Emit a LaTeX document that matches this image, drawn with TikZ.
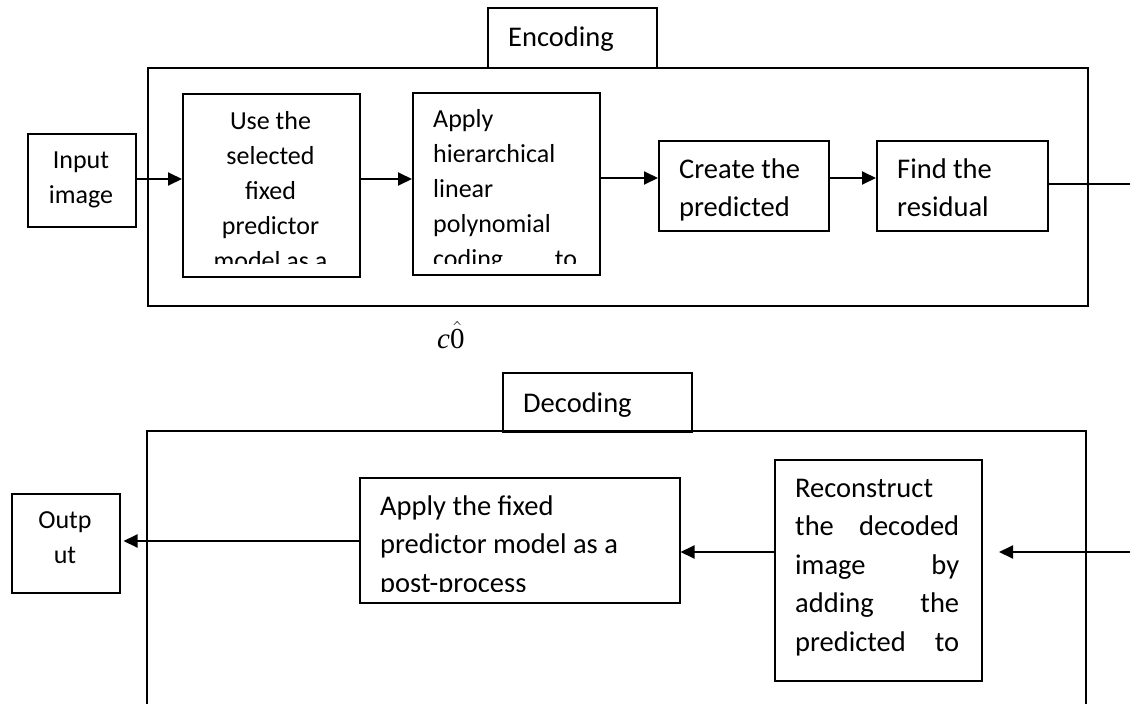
\documentclass[tikz,border=0pt]{standalone}
\usepackage{fix-cm}
\usepackage{fontspec}
\setmainfont{Carlito}
\newfontfamily\tnr{Liberation Serif}
\usetikzlibrary{arrows.meta}
\tikzset{
  box/.style={draw, line width=1.5pt, inner sep=0pt, anchor=north west},
  arr/.style={line width=1.9pt, -{Triangle[length=14pt,width=13pt]}},
  thinl/.style={line width=1.3pt},
  tsmall/.style={inner sep=0pt, font=\fontsize{26}{35}\selectfont},
  tbig/.style={inner sep=0pt, font=\fontsize{28.5}{38.5}\selectfont},
}
\begin{document}
\begin{tikzpicture}[x=1pt,y=-1pt]
\clip (0,0) rectangle (1130,704);
% ---------- Encoding ----------
\node[box, minimum width=940pt, minimum height=238pt] (enc) at (147,67) {};
\node[box, minimum width=169pt, minimum height=60pt] (enclab) at (487,7) {};
\node[tbig, anchor=base west] (enct) at (508,46) {Encoding};

\node[box, minimum width=108pt, minimum height=93pt] (inp) at (27,133) {};
\node[tsmall, anchor=base, align=center] (inpt) at (81,203) {Input\\image};

\node[box, minimum width=177pt, minimum height=183pt] (b1) at (182,93) {};
\begin{scope}
\clip (182,93) rectangle (359,263);
\node[tsmall, anchor=base, align=center] (b1t) at (270.5,269) {Use the\\selected\\fixed\\predictor\\model as a};
\end{scope}

\node[box, minimum width=187pt, minimum height=182pt] (b2) at (412,92) {};
\begin{scope}
\clip (412,92) rectangle (599,263);
\node[tsmall, anchor=base west, align=left] (b2t) at (433,267) {Apply\\hierarchical\\linear\\polynomial\\\hbox to 144pt{coding\hfill to}};
\end{scope}

\node[box, minimum width=170pt, minimum height=90pt] (b3) at (658,140) {};
\node[tbig, anchor=base west, align=left] (b3t) at (679,216.5) {Create the\\predicted};

\node[box, minimum width=171pt, minimum height=90pt] (b4) at (876,140) {};
\node[tbig, anchor=base west, align=left] (b4t) at (897,216.5) {Find the\\residual};

\coordinate (r1) at (0,179);
\coordinate (r2) at (0,178);
\coordinate (r3) at (0,184);
\coordinate (resout) at (1130,184);
\draw[arr] (inp.east |- r1) -- (b1.west |- r1);
\draw[arr] (b1.east |- r1) -- (b2.west |- r1);
\draw[arr] (b2.east |- r2) -- (b3.west |- r2);
\draw[arr] (b3.east |- r2) -- (b4.west |- r2);
\draw[thinl] (b4.east |- r3) -- (resout);

\node[inner sep=0pt, anchor=base west, font=\tnr\fontsize{29}{30}\selectfont] (chat) at (437,348) {$\mbox{\tnr\itshape c}\hat{\mbox{\tnr 0}}$};

% ---------- Decoding ----------
\coordinate (dbl) at (147,720);
\coordinate (dbr) at (1086,720);
\coordinate (dtl) at (147,431);
\coordinate (dtr) at (1086,431);
\draw[line width=1.5pt] (dbl) -- (dtl) -- (dtr) -- (dbr);
\node[box, minimum width=189pt, minimum height=59pt] (declab) at (502,372) {};
\node[tbig, anchor=base west] (dect) at (523,412) {Decoding};

\node[box, minimum width=108pt, minimum height=99pt] (out) at (11,493) {};
\node[tsmall, anchor=base, align=center] (outt) at (65,563) {Outp\\ut};

\node[box, minimum width=320pt, minimum height=125pt] (ap) at (359,477) {};
\begin{scope}
\clip (359,477) rectangle (679,591);
\node[tbig, anchor=base west, align=left] (apt) at (380,592) {Apply the fixed\\predictor model as a\\post-process};
\end{scope}

\node[box, minimum width=207pt, minimum height=221pt] (rc) at (774,459) {};
\node[tbig, anchor=base west, align=left] (rct) at (795,651) {Reconstruct\\\hbox to 164pt{the\hfill decoded}\\\hbox to 164pt{image\hfill by}\\\hbox to 164pt{adding\hfill the}\\\hbox to 164pt{predicted\hfill to}};

\coordinate (s1) at (0,541);
\coordinate (s2) at (0,552);
\coordinate (decin) at (1130,552);
\coordinate (tipr) at (999,552);
\draw[arr] (ap.west |- s1) -- ([xshift=3pt]out.east |- s1);
\draw[arr] (rc.west |- s2) -- (ap.east |- s2);
\draw[arr] (decin) -- (tipr);
\end{tikzpicture}
\end{document}
